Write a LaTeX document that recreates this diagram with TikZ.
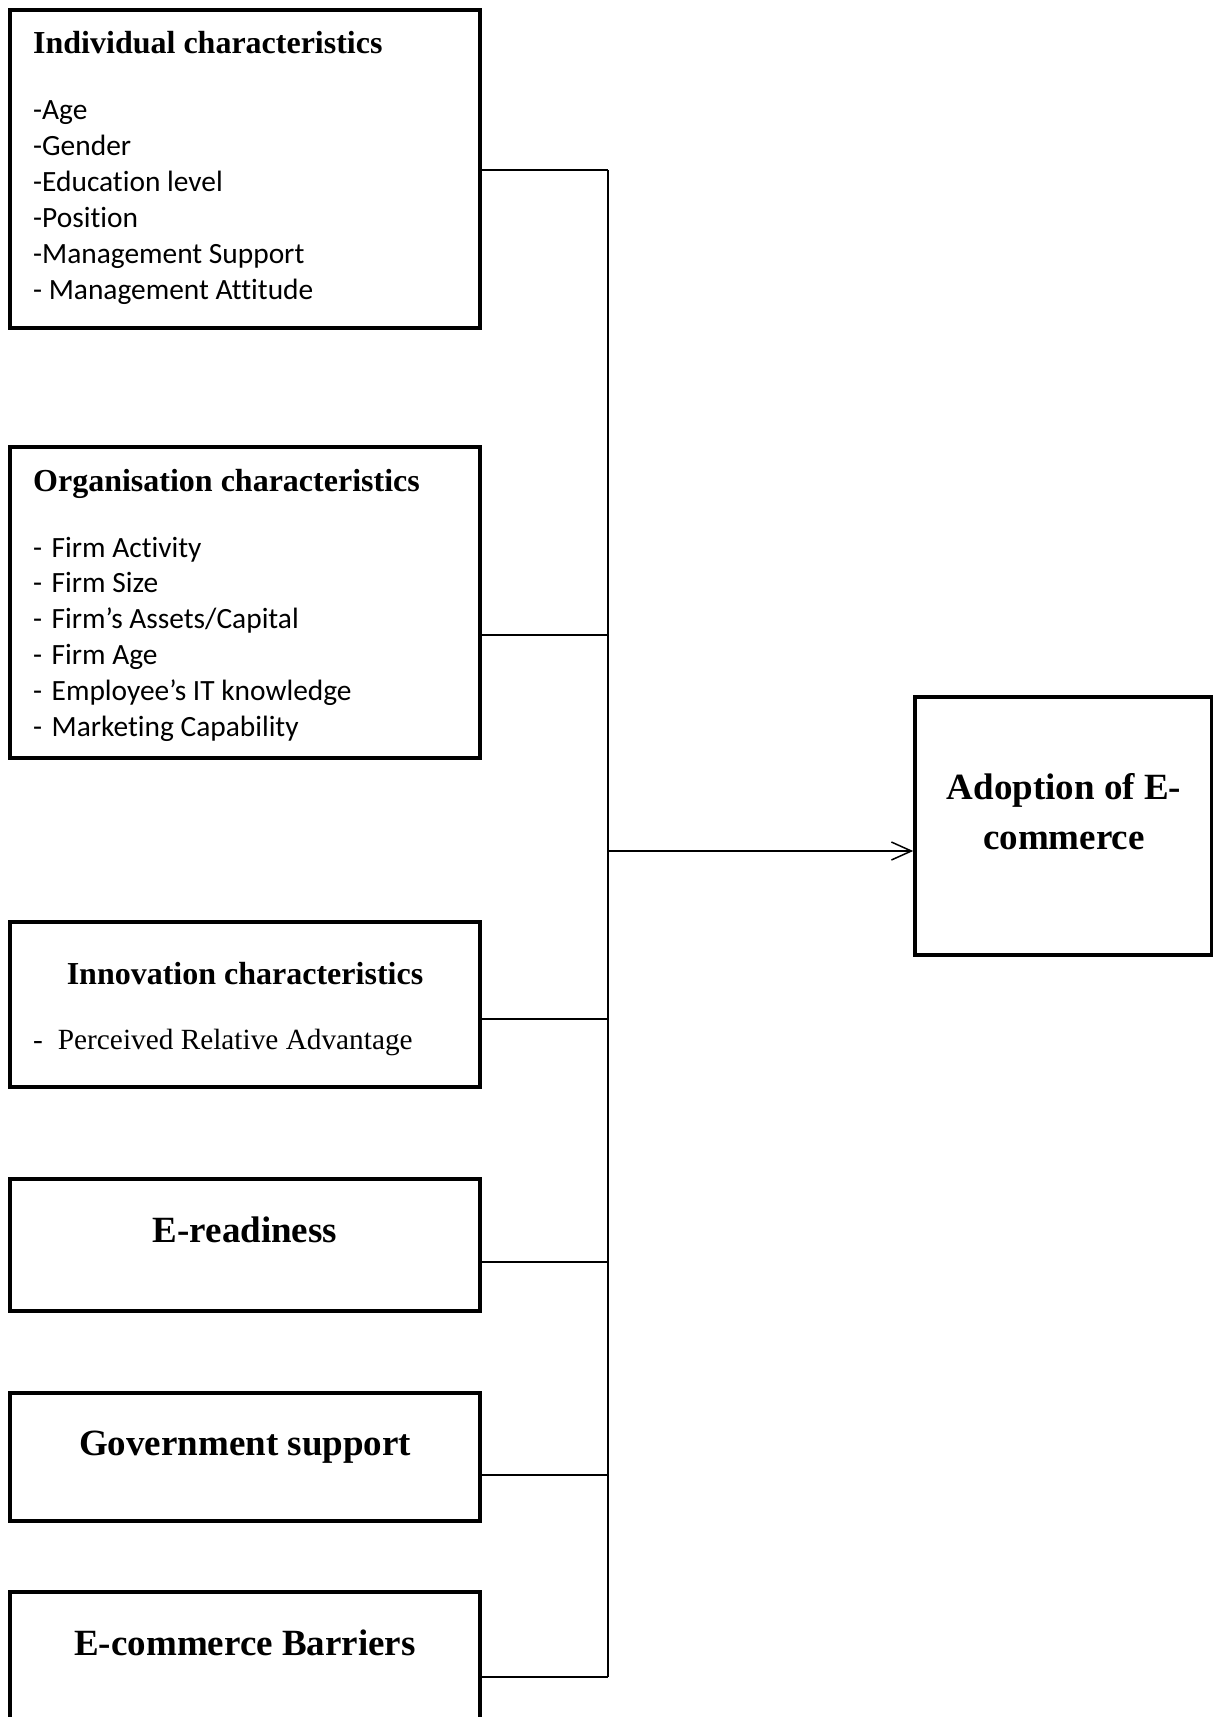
\documentclass[tikz,border=0pt]{standalone}
\usepackage{fontspec}
\setmainfont{Liberation Serif}
\newfontfamily\itemfont[Ligatures={NoCommon}]{Carlito}
\usetikzlibrary{arrows.meta}
\begin{document}
\begin{tikzpicture}[x=1pt,y=-1pt,
  box/.style={draw=black,line width=3.6pt,inner sep=0pt,minimum width=470pt},
  head/.style={inner sep=0pt,font=\bfseries\fontsize{32pt}{38pt}\selectfont},
  bighead/.style={inner sep=0pt,anchor=base,font=\bfseries\fontsize{37pt}{44pt}\selectfont},
  entry/.style={inner sep=0pt,anchor=base west,font=\itemfont\fontsize{29.4pt}{36pt}\selectfont},
  serifentry/.style={inner sep=0pt,anchor=base west,font=\fontsize{29.3pt}{35pt}\selectfont},
  link/.style={line width=1.5pt,draw=black},
]
\useasboundingbox (0,0) rectangle (1213,1717);
\clip (0,0) rectangle (1213,1717);

% factor boxes on the left
\node[box,minimum height=318pt] (ind)   at (245,169)    {};
\node[box,minimum height=311pt] (org)   at (245,602.5)  {};
\node[box,minimum height=165pt] (inno)  at (245,1004.5) {};
\node[box,minimum height=132pt] (ready) at (245,1245)   {};
\node[box,minimum height=128pt] (gov)   at (245,1457)   {};
\node[box,minimum height=148pt] (barr)  at (245,1666)   {};

% outcome box
\node[box,minimum width=297pt,minimum height=258pt] (adopt) at (1063.5,826) {};

% individual characteristics
\node[head,anchor=base west] (indtitle) at (33,53) {Individual characteristics};
\foreach \t [count=\i from 0] in {-Age,-Gender,-Education level,-Position,-Management Support,- Management Attitude}
  \node[entry] (indi\i) at (33,119+36.1*\i) {\t};

% organisation characteristics
\node[head,anchor=base west] (orgtitle) at (33,491) {Organisation characteristics};
\foreach \t [count=\i from 0] in {Firm Activity,Firm Size,Firm’s Assets/Capital,Firm Age,Employee’s IT knowledge,Marketing Capability}
  \node[entry] (orgi\i) at (33,557+35.9*\i) {-\hspace{9.5pt}\t};

% innovation characteristics
\node[head,anchor=base] (innotitle) at (245,984) {Innovation characteristics};
\node[serifentry] (innoi) at (33,1049) {-\hspace{15pt}Perceived Relative Advantage};

% single-title boxes
\node[bighead] (readytitle) at (245,1242) {E-readiness};
\node[bighead] (govtitle)   at (245,1455) {Government support};
\node[bighead] (barrtitle)  at (245,1655) {E-commerce Barriers};

\node[bighead] (adopttitlea) at (1064,799) {Adoption of E-};
\node[bighead] (adopttitleb) at (1064,849) {commerce};

% bus joints
\coordinate (j1) at (608,170);
\coordinate (j2) at (608,635);
\coordinate (j3) at (608,1019);
\coordinate (j4) at (608,1262);
\coordinate (j5) at (608,1475);
\coordinate (j6) at (608,1677);
\coordinate (jm) at (608,851);

\draw[link] (ind.east   |- j1) -- (j1);
\draw[link] (org.east   |- j2) -- (j2);
\draw[link] (inno.east  |- j3) -- (j3);
\draw[link] (ready.east |- j4) -- (j4);
\draw[link] (gov.east   |- j5) -- (j5);
\draw[link] (barr.east  |- j6) -- (j6);
\draw[link] (j1) -- (j6);
\draw[link,-{Straight Barb[length=20pt,width=18pt,line width=1.5pt]}] (jm) -- (jm -| adopt.west);
\end{tikzpicture}
\end{document}
